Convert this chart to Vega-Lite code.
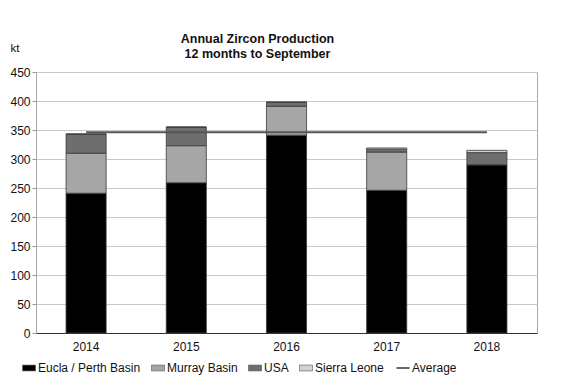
{
  "$schema": "https://vega.github.io/schema/vega-lite/v6.json",
  "width": 501,
  "height": 261,
  "autosize": {"type": "none"},
  "padding": {"left": 36, "top": 72, "right": 27, "bottom": 56},
  "background": "white",
  "config": {
    "font": "Liberation Sans",
    "view": {"stroke": "#a8a8a8", "strokeWidth": 1},
    "axisY": {
      "labelOverlap": false,
      "labelFontSize": 12,
      "labelColor": "#111",
      "labelPadding": 2,
      "tickSize": 4,
      "tickColor": "#999",
      "domain": false,
      "gridColor": "#c8c8c8",
      "gridWidth": 1
    }
  },
  "title": {
    "text": ["Annual Zircon Production", "12 months to September"],
    "fontSize": 12.5,
    "fontWeight": "bold",
    "color": "#111",
    "anchor": "middle",
    "dx": -29,
    "offset": -18,
    "lineHeight": 15
  },
  "datasets": {
    "prod": [
      {"year": "2014", "series": 1, "source": "Eucla / Perth Basin", "kt": 241},
      {"year": "2014", "series": 2, "source": "Murray Basin", "kt": 69},
      {"year": "2014", "series": 3, "source": "USA", "kt": 33},
      {"year": "2014", "series": 4, "source": "Sierra Leone", "kt": 0},
      {"year": "2015", "series": 1, "source": "Eucla / Perth Basin", "kt": 259},
      {"year": "2015", "series": 2, "source": "Murray Basin", "kt": 64},
      {"year": "2015", "series": 3, "source": "USA", "kt": 32},
      {"year": "2015", "series": 4, "source": "Sierra Leone", "kt": 0},
      {"year": "2016", "series": 1, "source": "Eucla / Perth Basin", "kt": 341},
      {"year": "2016", "series": 2, "source": "Murray Basin", "kt": 50},
      {"year": "2016", "series": 3, "source": "USA", "kt": 7},
      {"year": "2016", "series": 4, "source": "Sierra Leone", "kt": 0},
      {"year": "2017", "series": 1, "source": "Eucla / Perth Basin", "kt": 246},
      {"year": "2017", "series": 2, "source": "Murray Basin", "kt": 66},
      {"year": "2017", "series": 3, "source": "USA", "kt": 5},
      {"year": "2017", "series": 4, "source": "Sierra Leone", "kt": 2},
      {"year": "2018", "series": 1, "source": "Eucla / Perth Basin", "kt": 290},
      {"year": "2018", "series": 2, "source": "Murray Basin", "kt": 0},
      {"year": "2018", "series": 3, "source": "USA", "kt": 21},
      {"year": "2018", "series": 4, "source": "Sierra Leone", "kt": 4}
    ],
    "avg": [
      {"from": "2014", "to": "2018", "kt": 346, "source": "Average"}
    ]
  },
  "layer": [
    {
      "data": {"name": "prod"},
      "mark": {"type": "bar", "stroke": "#3a3a3a", "strokeWidth": 0.8},
      "encoding": {
        "x": {
          "field": "year",
          "type": "nominal",
          "scale": {"paddingInner": 0.6, "paddingOuter": 0.3},
          "axis": {
            "title": null,
            "labelAngle": 0,
            "labelFontSize": 12,
            "labelColor": "#111",
            "labelPadding": 8,
            "ticks": false,
            "domainColor": "#333",
            "domainWidth": 1
          }
        },
        "y": {
          "field": "kt",
          "type": "quantitative",
          "stack": "zero",
          "scale": {"domain": [0, 450], "nice": false},
          "axis": {
            "values": [0, 50, 100, 150, 200, 250, 300, 350, 400, 450],
            "title": "kt",
            "titleAngle": 0,
            "titleX": -26,
            "titleY": -21,
            "titleAlign": "left",
            "titleBaseline": "alphabetic",
            "titleFontSize": 11.5,
            "titleFontWeight": "normal",
            "titleColor": "#111"
          }
        },
        "color": {
          "field": "source",
          "type": "nominal",
          "scale": {
            "domain": ["Eucla / Perth Basin", "Murray Basin", "USA", "Sierra Leone", "Average"],
            "range": ["#000000", "#a6a6a6", "#6e6e6e", "#d2d2d2", "#555555"]
          },
          "legend": {
            "title": null,
            "orient": "none",
            "direction": "horizontal",
            "legendX": -13,
            "legendY": 290,
            "labelFontSize": 12,
            "labelColor": "#111",
            "symbolSize": 169,
            "symbolType": {"expr": "datum.value === 'Average' ? 'stroke' : 'M-1,-0.45H1V0.45H-1Z'"},
            "symbolStrokeColor": {"expr": "datum.value === 'Average' ? '#333' : '#555'"},
            "symbolStrokeWidth": {"expr": "datum.value === 'Average' ? 1.5 : 0.6"},
            "labelOffset": 3,
            "columnPadding": 9
          }
        },
        "order": {"field": "series", "type": "quantitative", "sort": "ascending"}
      }
    },
    {
      "data": {"name": "avg"},
      "mark": {"type": "rule", "color": "#555555", "strokeWidth": 2},
      "encoding": {
        "x": {"field": "from", "type": "nominal"},
        "x2": {"field": "to"},
        "y": {
          "field": "kt",
          "type": "quantitative",
          "axis": {
            "values": [0, 50, 100, 150, 200, 250, 300, 350, 400, 450],
            "title": "kt",
            "titleAngle": 0,
            "titleX": -26,
            "titleY": -21,
            "titleAlign": "left",
            "titleBaseline": "alphabetic",
            "titleFontSize": 11.5,
            "titleFontWeight": "normal",
            "titleColor": "#111"
          }
        }
      }
    }
  ]
}
